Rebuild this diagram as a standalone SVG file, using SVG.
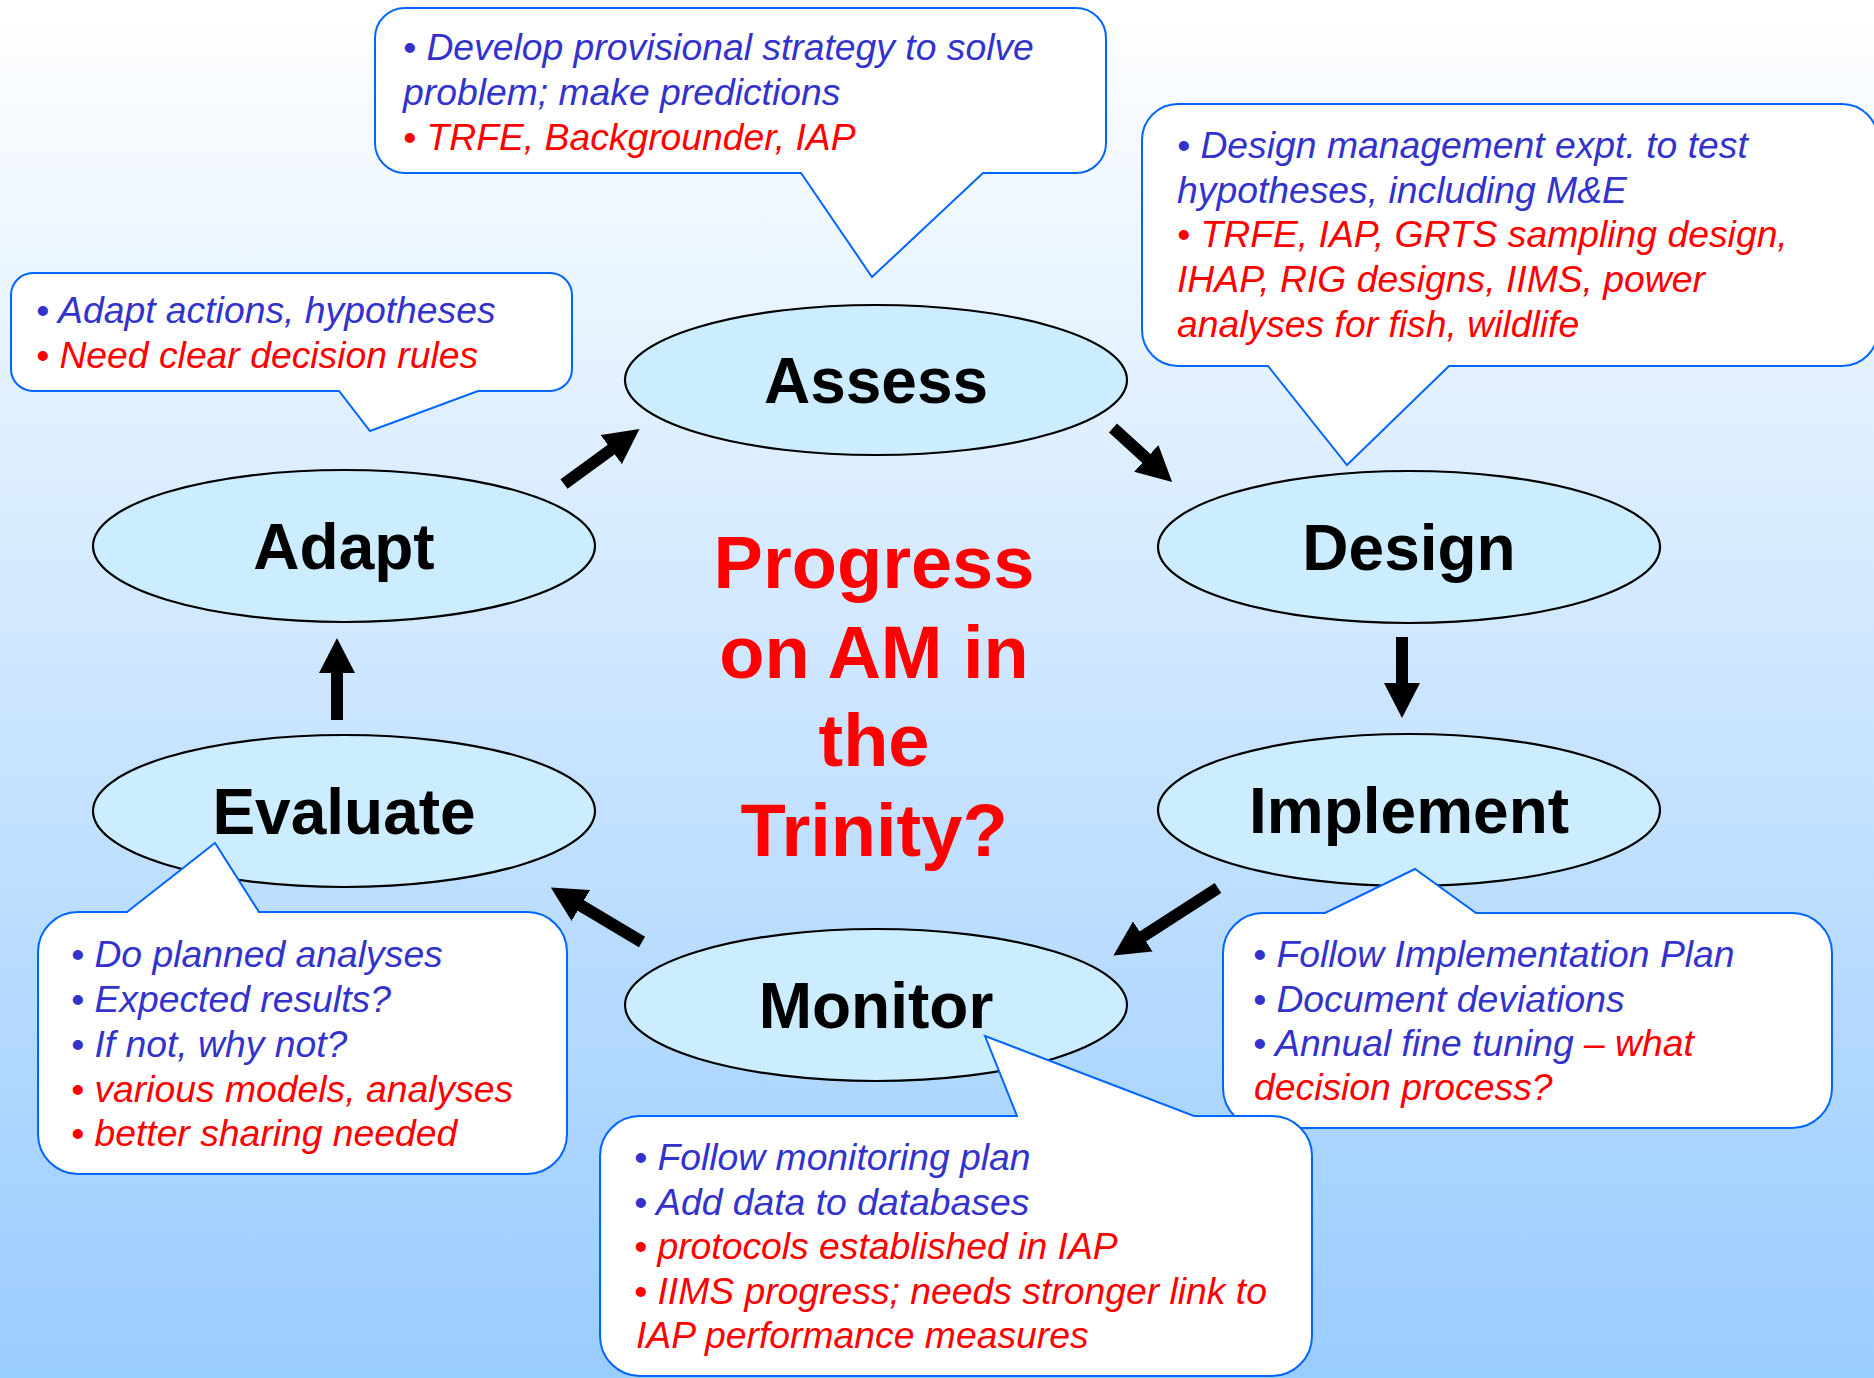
<svg xmlns="http://www.w3.org/2000/svg" width="1874" height="1378" viewBox="0 0 1874 1378">
  <defs>
    <linearGradient id="bg" x1="0" y1="0" x2="0" y2="1">
      <stop offset="0" stop-color="#FFFFFF"/>
      <stop offset="1" stop-color="#99CCFF"/>
    </linearGradient>
    <marker id="head" viewBox="0 0 35 36" refX="1" refY="18" markerWidth="35" markerHeight="36" markerUnits="userSpaceOnUse" orient="auto">
      <path d="M0,0 L35,18 L0,36 Z" fill="#000"/>
    </marker>
    <style>
      .stage { fill: #CCECFF; stroke: #000; stroke-width: 2.2; }
      .stage-label { font-family: "Liberation Sans", Arial, sans-serif; font-weight: bold; font-size: 64px; fill: #000; text-anchor: middle; }
      .callout { fill: #FFFFFF; stroke: #0066FF; stroke-width: 2; stroke-linejoin: miter; }
      .note { font-family: "Liberation Sans", Arial, sans-serif; font-style: italic; font-size: 37.3px; }
      .blue { fill: #3333CC; }
      .red { fill: #FF0000; }
      .title { font-family: "Liberation Sans", Arial, sans-serif; font-weight: bold; font-size: 74px; fill: #FF0000; text-anchor: middle; }
      .flow { stroke: #000; stroke-width: 12; fill: none; marker-end: url(#head); }
    </style>
  </defs>

  <rect x="0" y="0" width="1874" height="1378" fill="url(#bg)"/>

  <!-- cycle stages -->
  <g id="assess">
    <ellipse class="stage" cx="876" cy="380" rx="251" ry="75"/>
    <text class="stage-label" x="876" y="403">Assess</text>
  </g>
  <g id="design">
    <ellipse class="stage" cx="1409" cy="547" rx="251" ry="76"/>
    <text class="stage-label" x="1409" y="570">Design</text>
  </g>
  <g id="implement">
    <ellipse class="stage" cx="1409" cy="810" rx="251" ry="76"/>
    <text class="stage-label" x="1409" y="833">Implement</text>
  </g>
  <g id="monitor">
    <ellipse class="stage" cx="876" cy="1005" rx="251" ry="76"/>
    <text class="stage-label" x="876" y="1028">Monitor</text>
  </g>
  <g id="evaluate">
    <ellipse class="stage" cx="344" cy="811" rx="251" ry="76"/>
    <text class="stage-label" x="344" y="834">Evaluate</text>
  </g>
  <g id="adapt">
    <ellipse class="stage" cx="344" cy="546" rx="251" ry="76"/>
    <text class="stage-label" x="344" y="569">Adapt</text>
  </g>

  <!-- block arrows between stages -->
  <g id="connectors">
    <line class="flow" x1="564" y1="484" x2="612" y2="449"/>
    <line class="flow" x1="1113" y1="428" x2="1147" y2="459"/>
    <line class="flow" x1="1402" y1="637" x2="1402" y2="684"/>
    <line class="flow" x1="1218" y1="888" x2="1142" y2="937"/>
    <line class="flow" x1="642" y1="942" x2="580" y2="905"/>
    <line class="flow" x1="337" y1="720" x2="337" y2="672"/>
  </g>

  <!-- centre question -->
  <g id="title">
    <text class="title" x="874" y="588">Progress</text>
    <text class="title" x="874" y="678">on AM in</text>
    <text class="title" x="874" y="766">the</text>
    <text class="title" x="874" y="856">Trinity?</text>
  </g>

  <!-- speech-bubble notes -->
  <g id="note-assess">
    <path class="callout" d="M405,8 H1076 A30,30 0 0 1 1106,38 V143 A30,30 0 0 1 1076,173 H983 L872,277 L801,173 H405 A30,30 0 0 1 375,143 V38 A30,30 0 0 1 405,8 Z"/>
    <text class="note blue" x="403" y="60">• Develop provisional strategy to solve</text>
    <text class="note blue" x="403" y="105">problem; make predictions</text>
    <text class="note red" x="403" y="150">• TRFE, Backgrounder, IAP</text>
  </g>

  <g id="note-design">
    <path class="callout" d="M1178,104 H1842 A36,36 0 0 1 1878,140 V330 A36,36 0 0 1 1842,366 H1449 L1347,465 L1268,366 H1178 A36,36 0 0 1 1142,330 V140 A36,36 0 0 1 1178,104 Z"/>
    <text class="note blue" x="1177" y="158">• Design management expt. to test</text>
    <text class="note blue" x="1177" y="203">hypotheses, including M&amp;E</text>
    <text class="note red" x="1177" y="247">• TRFE, IAP, GRTS sampling design,</text>
    <text class="note red" x="1177" y="292">IHAP, RIG designs, IIMS, power</text>
    <text class="note red" x="1177" y="337">analyses for fish, wildlife</text>
  </g>

  <g id="note-adapt">
    <path class="callout" d="M33,273 H550 A22,22 0 0 1 572,295 V369 A22,22 0 0 1 550,391 H478 L370,431 L339,391 H33 A22,22 0 0 1 11,369 V295 A22,22 0 0 1 33,273 Z"/>
    <text class="note blue" x="36" y="323">• Adapt actions, hypotheses</text>
    <text class="note red" x="36" y="368">• Need clear decision rules</text>
  </g>

  <g id="note-evaluate">
    <path class="callout" d="M78,912 H127 L215,843 L259,912 H527 A40,40 0 0 1 567,952 V1134 A40,40 0 0 1 527,1174 H78 A40,40 0 0 1 38,1134 V952 A40,40 0 0 1 78,912 Z"/>
    <text class="note blue" x="71" y="967">• Do planned analyses</text>
    <text class="note blue" x="71" y="1012">• Expected results?</text>
    <text class="note blue" x="71" y="1057">• If not, why not?</text>
    <text class="note red" x="71" y="1102">• various models, analyses</text>
    <text class="note red" x="71" y="1146">• better sharing needed</text>
  </g>

  <g id="note-implement">
    <path class="callout" d="M1263,913 H1325 L1415,869 L1476,913 H1792 A40,40 0 0 1 1832,953 V1088 A40,40 0 0 1 1792,1128 H1263 A40,40 0 0 1 1223,1088 V953 A40,40 0 0 1 1263,913 Z"/>
    <text class="note blue" x="1253" y="967">• Follow Implementation Plan</text>
    <text class="note blue" x="1253" y="1012">• Document deviations</text>
    <text class="note blue" x="1253" y="1056">• Annual fine tuning <tspan class="red">– what</tspan></text>
    <text class="note red" x="1254" y="1100">decision process?</text>
  </g>

  <g id="note-monitor">
    <path class="callout" d="M640,1116 H1017 L985,1036 L1194,1116 H1272 A40,40 0 0 1 1312,1156 V1336 A40,40 0 0 1 1272,1376 H640 A40,40 0 0 1 600,1336 V1156 A40,40 0 0 1 640,1116 Z"/>
    <text class="note blue" x="634" y="1170">• Follow monitoring plan</text>
    <text class="note blue" x="634" y="1215">• Add data to databases</text>
    <text class="note red" x="634" y="1259">• protocols established in IAP</text>
    <text class="note red" x="634" y="1304">• IIMS progress; needs stronger link to</text>
    <text class="note red" x="636" y="1348">IAP performance measures</text>
  </g>
</svg>
